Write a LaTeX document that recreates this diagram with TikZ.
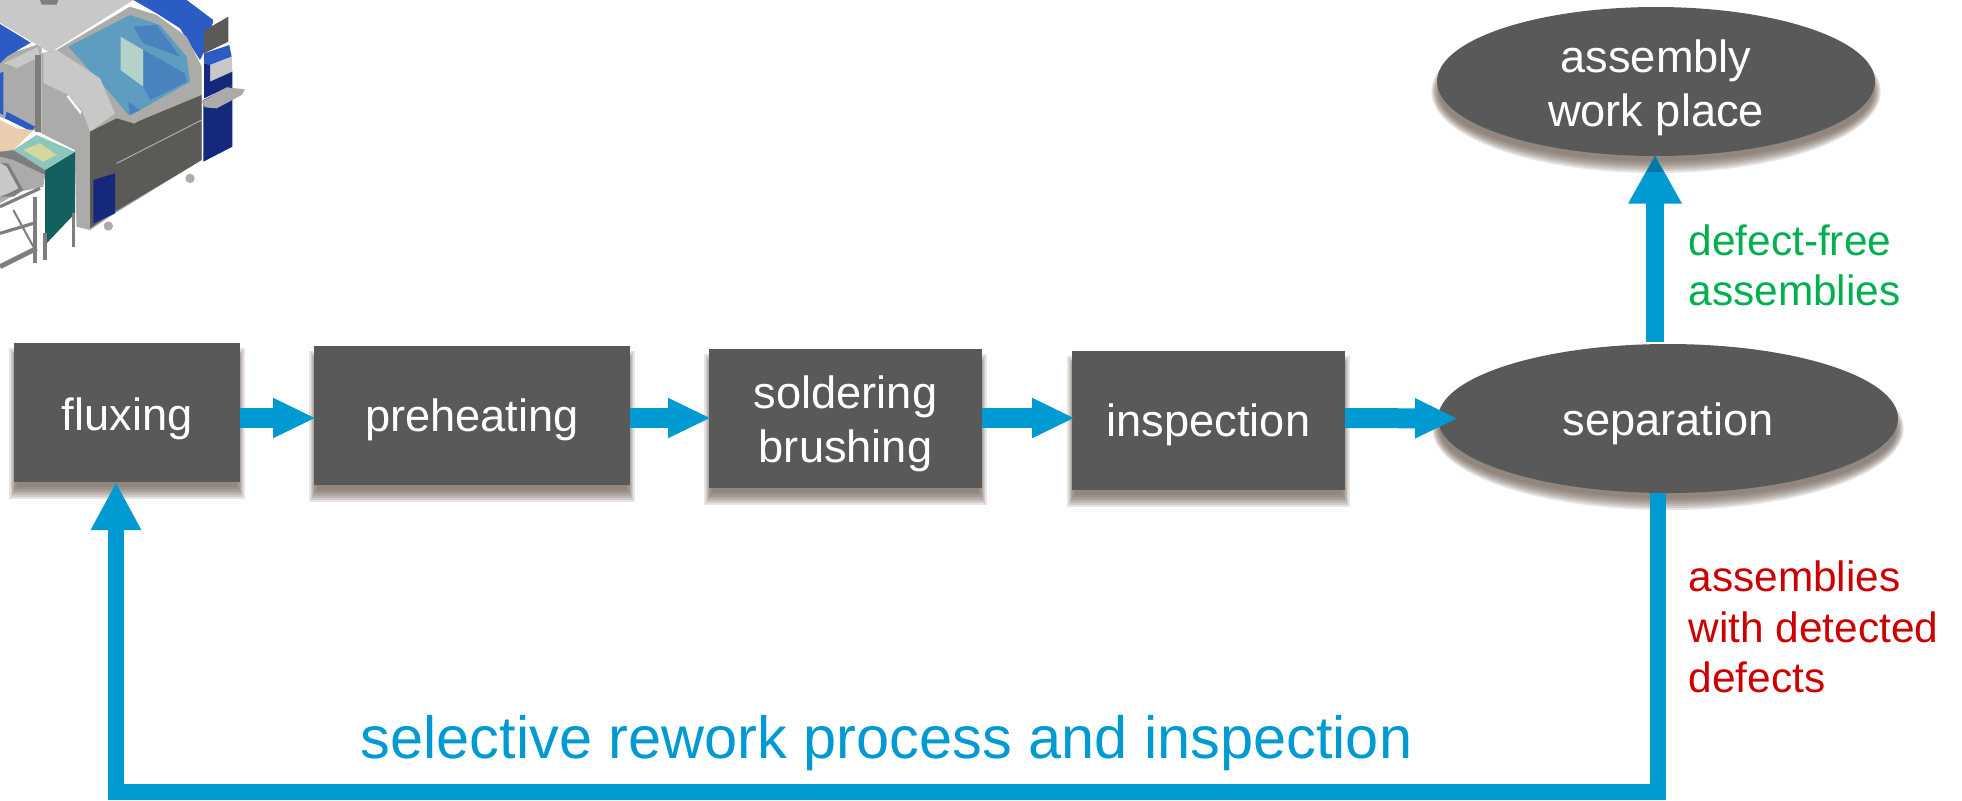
\documentclass[tikz,border=0pt]{standalone}
\usepackage{fontspec}
\setmainfont{Liberation Sans}
\usetikzlibrary{arrows.meta,shapes.geometric}
\definecolor{boxgray}{HTML}{595959}
\definecolor{flowblue}{HTML}{009AD3}
\definecolor{okgreen}{HTML}{00B050}
\definecolor{badred}{HTML}{CC0000}
\definecolor{shadowcol}{HTML}{6B5B52}
\definecolor{mblue}{HTML}{2A5CC4}
\definecolor{mnavy}{HTML}{14287C}
\definecolor{mwin}{HTML}{5E9CC0}
\definecolor{mwinb}{HTML}{4A82C0}
\definecolor{mwinl}{HTML}{B4D2C8}
\definecolor{mlight}{HTML}{C8C8C6}
\definecolor{mmid}{HTML}{ABABA9}
\definecolor{mdark}{HTML}{5C5A57}
\definecolor{mframe}{HTML}{7E7E7C}
\definecolor{mteal}{HTML}{13605E}
\definecolor{mtop}{HTML}{8CC6BC}
\definecolor{myel}{HTML}{D4D89C}
\definecolor{mbeige}{HTML}{EACDAE}
\pgfdeclarelayer{under}
\pgfdeclarelayer{shade}
\pgfdeclarelayer{over}
\pgfsetlayers{under,shade,main,over}
% one centred line, raised #1 pt above the node centre
\newcommand\cenline[2]{\makebox[0pt][c]{\smash{\raisebox{#1pt}{#2}}}}
% one left-aligned line, raised #1 pt
\newcommand\lefline[2]{\makebox[0pt][l]{\smash{\raisebox{#1pt}{#2}}}}
\newcommand\rectshadow[4]{%
  \foreach \e in {6,4,...,-6}{%
    \fill[shadowcol,opacity=.17] ({#1-1-.6*\e},{#2+11-\e}) rectangle ({#3+1+.6*\e},{#4+11+\e});}}
\newcommand\ellshadow[4]{%
  \foreach \e in {6,4,...,-6}{%
    \fill[shadowcol,opacity=.17] ({#1},{#2+10}) ellipse ({(#3+2+.6*\e)*0.5pt} and {(#4+1+\e)*0.5pt});}}
\tikzset{
  procbox/.style={rectangle,fill=boxgray,text=white,inner sep=0pt,outer sep=0pt,font=\fontsize{22.6}{27}\selectfont},
  procell/.style={ellipse,fill=boxgray,text=white,inner sep=0pt,outer sep=0pt,font=\fontsize{22.6}{27}\selectfont},
  sidelabel/.style={inner sep=0pt,outer sep=0pt,anchor=west,font=\fontsize{21.2}{25}\selectfont},
  flowarrow/.style={draw=flowblue,line width=10pt,-{Triangle[width=18.5pt,length=21.5pt]},flowblue},
  looparrow/.style={draw=flowblue,line width=8pt,-{Triangle[width=23.5pt,length=24pt]},flowblue,miter limit=10},
  uparrow/.style={draw=flowblue,line width=8.75pt,-{Triangle[width=25pt,length=24.5pt]},flowblue},
}
\begin{document}
\begin{tikzpicture}[x=0.5pt,y=-0.5pt]
\useasboundingbox (0,0) rectangle (1962,800);
\begin{pgfonlayer}{under}
\fill[white] (0,0) rectangle (1962,800);
\end{pgfonlayer}

% machine picture, drawn directly
\begin{scope}[x=0.16667pt,y=-0.16667pt]
  % left panel behind the conveyor
  \fill[mmid] (0,170) -- (125,130) -- (125,400) -- (0,350) -- cycle;
  \fill[mblue] (0,220) -- (10,215) -- (10,345) -- (0,340) -- cycle;
  \fill[mlight] (10,190) -- (115,140) -- (118,170) -- (50,205) -- (30,195) -- cycle;
  \fill[mframe] (106,165) -- (122,165) -- (122,395) -- (106,395) -- cycle;
  \fill[mblue] (20,335) -- (105,380) -- (95,395) -- (15,355) -- cycle;
  % top
  \fill[mlight] (0,0) -- (400,0) -- (150,158) -- (0,68) -- cycle;
  \fill[mframe] (120,0) -- (175,0) -- (170,14) -- (125,14) -- cycle;
  \fill[mblue] (0,72) -- (92,128) -- (20,170) -- (0,190) -- cycle;
  % blue roof right
  \fill[mblue] (400,0) -- (560,0) -- (640,60) -- (625,130) -- (600,180) -- (540,85) -- (470,40) -- cycle;
  % grey arch
  \fill[mmid] (170,150) -- (390,20) -- (470,45) -- (560,110) -- (605,200) -- (605,480) -- (345,640) -- (270,690) -- (230,680) -- (225,450) -- (125,400) -- (125,160) -- cycle;
  % window
  \fill[mwin] (205,140) -- (390,45) -- (480,75) -- (560,170) -- (570,245) -- (420,330) -- (385,345) -- (340,290) -- cycle;
  \fill[mwinl] (362,110) -- (430,150) -- (430,260) -- (362,210) -- cycle;
  \fill[mwinb] (430,150) -- (555,220) -- (560,245) -- (450,300) -- (430,260) -- cycle;
  \fill[mwinb] (400,80) -- (470,75) -- (540,170) -- (430,130) -- cycle;
  \fill[mwinb] (385,305) -- (420,330) -- (390,345) -- cycle;
  % rounded front of the arch
  \fill[mlight] (130,160) -- (170,150) -- (300,235) -- (345,340) -- (270,395) -- (245,330) -- (205,285) -- (130,250) -- cycle;
  \fill[mmid] (130,250) -- (205,285) -- (245,330) -- (270,395) -- (270,685) -- (230,680) -- (225,450) -- (130,400) -- cycle;
  \fill[white!90!mmid] (200,290) -- (205,285) -- (245,335) -- (241,343) -- cycle;
  % dark front panel
  \fill[mdark] (270,395) -- (350,355) -- (400,370) -- (605,285) -- (605,480) -- (345,635) -- (270,685) -- cycle;
  \draw[mmid,line width=.5pt] (350,490) -- (605,360);
  \draw[mmid,line width=.5pt] (400,370) -- (570,280);
  \fill[mnavy] (280,540) -- (345,520) -- (345,640) -- (280,670) -- cycle;
  % right column
  \fill[mnavy] (610,300) -- (697,255) -- (697,440) -- (610,485) -- cycle;
  \fill[mdark] (612,92) -- (685,50) -- (685,125) -- (612,160) -- cycle;
  \fill[mblue] (612,160) -- (688,135) -- (695,170) -- (630,195) -- (612,190) -- cycle;
  \fill[mlight] (630,195) -- (695,170) -- (697,215) -- (630,245) -- cycle;
  \fill[mnavy] (612,190) -- (630,195) -- (630,245) -- (697,215) -- (697,255) -- (612,295) -- cycle;
  \fill[mmid] (605,305) -- (680,262) -- (735,268) -- (725,285) -- (650,325) -- (615,322) -- cycle;
  % wheels
  \fill[mmid] (570,535) circle (14);
  \fill[mmid] (325,678) circle (14);
  % teal conveyor end
  \fill[mteal] (135,510) -- (225,455) -- (225,640) -- (135,735) -- cycle;
  \fill[mframe] (215,640) rectangle (224,740);
  \fill[mframe] (128,700) rectangle (140,780);
  \fill[mframe] (0,450) -- (40,448) -- (135,508) -- (135,535) -- (40,485) -- (0,475) -- cycle;
  \fill[mbeige] (0,360) -- (50,385) -- (100,390) -- (40,450) -- (0,455) -- cycle;
  \fill[mtop] (40,450) -- (110,405) -- (225,455) -- (135,510) -- cycle;
  \fill[myel] (70,450) -- (120,430) -- (170,465) -- (130,485) -- cycle;
  % table
  \fill[mmid] (40,480) -- (135,525) -- (130,560) -- (60,575) -- (0,610) -- (0,470) -- cycle;
  \fill[mframe] (0,490) -- (25,490) -- (70,570) -- (40,590) -- (0,590) -- cycle;
  \fill[mlight] (0,490) -- (20,500) -- (55,565) -- (25,580) -- (0,590) -- cycle;
  \draw[mframe,line width=1.6pt] (0,620) -- (120,565);
  \draw[mframe,line width=1.6pt] (0,700) -- (100,670);
  \draw[mframe,line width=2.5pt] (0,800) -- (110,745);
  \draw[mframe,line width=1.8pt] (105,590) -- (105,790);
  \draw[mframe,line width=1pt] (40,630) -- (100,740);
\end{scope}

% process nodes
\node[procbox,minimum width=113pt,minimum height=69.5pt] (flux) at (127,412.5) {\cenline{-8.75}{fluxing}};
\node[procbox,minimum width=158pt,minimum height=69.5pt] (pre) at (472,415.5) {\cenline{-8}{preheating}};
\node[procbox,minimum width=136.5pt,minimum height=69.5pt] (sold) at (845.5,418.5) {\cenline{5.2}{soldering}\cenline{-21.8}{brushing}};
\node[procbox,minimum width=136.5pt,minimum height=69.5pt] (insp) at (1208.5,420.5) {\cenline{-8}{inspection}};
\node[procell,minimum width=230pt,minimum height=74.5pt] (sep) at (1668,418.5) {\cenline{-8.6}{separation}};
\node[procell,minimum width=219pt,minimum height=74.5pt] (asm) at (1656,81.5) {\cenline{4.75}{assembly}\cenline{-22.25}{work place}};

% soft shadows
\begin{pgfonlayer}{shade}
  \rectshadow{14}{343}{240}{482}
  \rectshadow{314}{346}{630}{485}
  \rectshadow{709}{349}{982}{488}
  \rectshadow{1072}{351}{1345}{490}
  \ellshadow{1668}{418.5}{230}{74.5}
  \ellshadow{1656}{81.5}{219}{74.5}
\end{pgfonlayer}

% connectors
\coordinate (rowy) at (0,418);
\coordinate (loopbot) at (116,791.5);
\begin{pgfonlayer}{over}
  \draw[flowarrow] (flux.east |- rowy) -- ([xshift=1pt]pre.west |- rowy);
  \draw[flowarrow] (pre.east |- rowy) -- ([xshift=1pt]sold.west |- rowy);
  \draw[flowarrow] (sold.east |- rowy) -- ([xshift=1.5pt]insp.west |- rowy);
  \draw[flowarrow] (insp.east |- rowy) -- ([xshift=10pt]sep.west);
  \draw[looparrow] ([xshift=-5pt]sep.south) |- (loopbot) -- ([xshift=-5.5pt]flux.south);
  \draw[uparrow] ([xshift=-.5pt,yshift=1pt]sep.north -| asm.south) -- ([xshift=-.5pt,yshift=.75pt]asm.south);
  % the ellipse's shadow falls on the arrow's tip
  \fill[black,opacity=.22] ([xshift=-.5pt]asm.south) -- ++(4.2pt,-8pt) -- ++(-8.4pt,0pt) -- cycle;
\end{pgfonlayer}

% labels
\node[sidelabel,text=okgreen] (okl) at (1687.5,255) {\lefline{0}{defect-free}\lefline{-25}{assemblies}};
\node[sidelabel,text=badred] (badl) at (1687.5,591) {\lefline{0}{assemblies}\lefline{-25.5}{with detected}\lefline{-50.7}{defects}};
\node[inner sep=0pt,outer sep=0pt,anchor=base,text=flowblue,font=\fontsize{29.75}{35}\selectfont] (rework) at (886.5,758) {selective rework process and inspection};
\end{tikzpicture}
\end{document}
